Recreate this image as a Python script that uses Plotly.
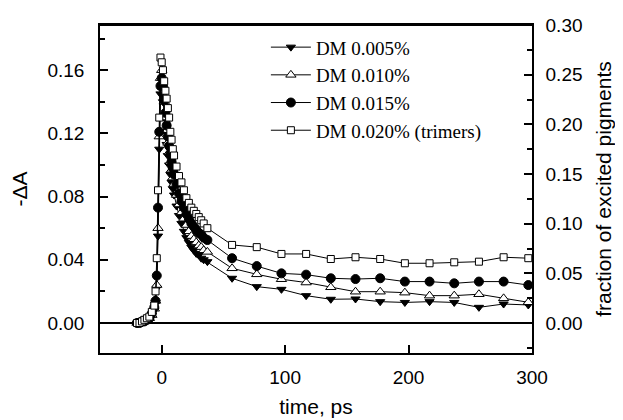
import plotly.graph_objects as go

# time axis (ps)
time_ps = [-20, -18, -16, -14, -12, -10, -8, -6, -5, -4, -3, -2, -1, 0, 1, 2, 3, 4, 5, 6, 7, 8, 9, 10,
           12, 14, 16, 18, 20, 22, 24, 26, 28, 30, 32, 34, 37,
           57, 77, 97, 117, 137, 157, 177, 197, 217, 237, 257, 277, 297]

dm_0005 = [0.000, 0.000, 0.001, 0.001, 0.002, 0.003, 0.005, 0.008, 0.013, 0.022, 0.055, 0.110, 0.145, 0.150,
           0.140, 0.130, 0.121, 0.113, 0.106, 0.100, 0.094, 0.089, 0.085, 0.081,
           0.074, 0.068, 0.063, 0.058, 0.054, 0.051, 0.048, 0.046, 0.044, 0.043, 0.041, 0.040, 0.0388,
           0.0283, 0.0230, 0.0213, 0.0173, 0.0150, 0.0152, 0.0135, 0.0130, 0.0135, 0.0130, 0.0099, 0.0120, 0.0114]

dm_0010 = [0.000, 0.000, 0.001, 0.001, 0.002, 0.003, 0.005, 0.009, 0.014, 0.024, 0.060, 0.118, 0.155, 0.160,
           0.150, 0.140, 0.130, 0.122, 0.114, 0.108, 0.102, 0.097, 0.092, 0.088,
           0.081, 0.075, 0.070, 0.066, 0.062, 0.058, 0.055, 0.053, 0.051, 0.049, 0.048, 0.046, 0.0450,
           0.0346, 0.0308, 0.0277, 0.0256, 0.0226, 0.0198, 0.0198, 0.0192, 0.0173, 0.0173, 0.0182, 0.0156, 0.0131]

dm_0015 = [0.000, 0.000, 0.001, 0.001, 0.002, 0.003, 0.006, 0.010, 0.014, 0.030, 0.073, 0.121, 0.150, 0.155,
           0.150, 0.141, 0.133, 0.125, 0.118, 0.112, 0.107, 0.102, 0.098, 0.094,
           0.088, 0.082, 0.077, 0.073, 0.069, 0.066, 0.063, 0.061, 0.059, 0.057, 0.056, 0.054, 0.0525,
           0.0410, 0.0360, 0.0314, 0.0306, 0.0283, 0.0278, 0.0283, 0.0262, 0.0262, 0.0251, 0.0262, 0.0262, 0.0240]

dm_0020 = [0.000, 0.000, 0.001, 0.002, 0.003, 0.004, 0.007, 0.011, 0.020, 0.041, 0.084, 0.130, 0.168, 0.165,
           0.160, 0.153, 0.147, 0.142, 0.136, 0.130, 0.121, 0.116, 0.110, 0.106,
           0.099, 0.093, 0.089, 0.084, 0.079, 0.076, 0.073, 0.071, 0.069, 0.067, 0.065, 0.063, 0.0600,
           0.0494, 0.0480, 0.0437, 0.0437, 0.0405, 0.0416, 0.0405, 0.0378, 0.0378, 0.0384, 0.0388, 0.0416, 0.0410]

series_names = ["DM 0.005%", "DM 0.010%", "DM 0.015%", "DM 0.020% (trimers)"]
series_values = [dm_0005, dm_0010, dm_0015, dm_0020]
symbols = ["triangle-down", "triangle-up", "circle", "square"]
fills = ["black", "white", "black", "white"]
sizes = [8, 9, 9, 7]

left_ticks = [0.00, 0.04, 0.08, 0.12, 0.16]
right_ticks = [0.00, 0.05, 0.10, 0.15, 0.20, 0.25, 0.30]
x_ticks = [0, 100, 200, 300]

fig = go.Figure()
for name, vals, sym, fc, sz in zip(series_names, series_values, symbols, fills, sizes):
    fig.add_trace(go.Scatter(
        x=time_ps, y=vals, name=name, mode="lines+markers",
        line=dict(color="black", width=1),
        marker=dict(symbol=sym, size=sz, color=fc, line=dict(color="black", width=1)),
    ))

fig.add_trace(go.Scatter(x=[], y=[], yaxis="y2", showlegend=False, hoverinfo="skip"))

tickfont = dict(family="Liberation Sans, Arial, sans-serif", size=19, color="black")
titlefont = dict(family="Liberation Sans, Arial, sans-serif", size=21, color="black")

fig.update_layout(
    template="none",
    width=615, height=412,
    margin=dict(l=92, r=91, t=17, b=67),
    paper_bgcolor="white", plot_bgcolor="white",
    showlegend=True,
    legend=dict(
        x=0.384, y=0.99, xanchor="left", yanchor="top",
        bgcolor="rgba(0,0,0,0)",
        font=dict(family="Liberation Serif, Times New Roman, serif", size=19, color="black"),
        tracegroupgap=0, itemwidth=40,
    ),
    xaxis=dict(
        range=[-50, 300], tickvals=x_ticks, ticktext=[str(v) for v in x_ticks],
        ticks="inside", ticklen=8, tickwidth=1.5, tickcolor="black",
        showline=True, linecolor="black", linewidth=1.5, mirror=True,
        showgrid=False, zeroline=False, tickfont=tickfont, automargin=False,
        ticklabelstandoff=6,
        title=dict(text="time, ps", font=titlefont, standoff=13),
    ),
    yaxis=dict(
        range=[-0.019, 0.1886], tickvals=left_ticks, ticktext=[f"{v:.2f}" for v in left_ticks],
        ticks="inside", ticklen=8, tickwidth=1.5, tickcolor="black",
        minor=dict(dtick=0.02, tick0=0, ticks="inside", ticklen=5, tickwidth=1.5, tickcolor="black"),
        showline=True, linecolor="black", linewidth=1.5, automargin=False,
        showgrid=False, zeroline=True, zerolinecolor="black", zerolinewidth=1.5,
        tickfont=tickfont, ticklabelstandoff=10,
        title=dict(text="-ΔA", font=titlefont, standoff=19),
    ),
    yaxis2=dict(
        range=[-0.0302, 0.30], tickvals=right_ticks, ticktext=[f"{v:.2f}" for v in right_ticks],
        overlaying="y", side="right", automargin=False,
        ticks="inside", ticklen=8, tickwidth=1.5, tickcolor="black",
        minor=dict(dtick=0.025, tick0=0, ticks="inside", ticklen=5, tickwidth=1.5, tickcolor="black"),
        showline=True, linecolor="black", linewidth=1.5,
        showgrid=False, zeroline=False,
        tickfont=tickfont, ticklabelstandoff=8,
        title=dict(text="fraction of excited pigments", font=titlefont, standoff=15),
    ),
    shapes=[dict(type="line", xref="paper", yref="paper", x0=0, x1=1, y0=1, y1=1,
                 line=dict(color="black", width=2))],
)

fig.write_html("out.html")
